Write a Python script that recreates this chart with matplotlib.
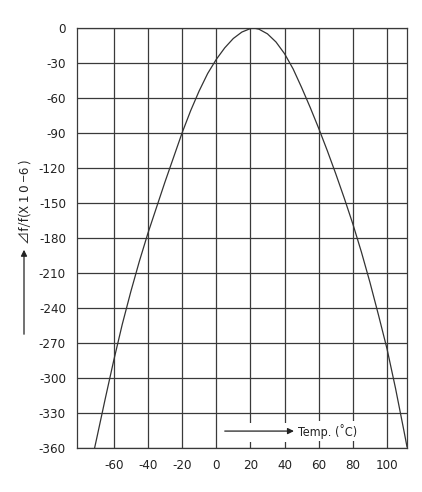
import matplotlib
matplotlib.use("Agg")
import matplotlib.pyplot as plt
from matplotlib.patches import Rectangle, FancyArrowPatch

# Data (temperature in degC, frequency deviation in ppm)
temp = [-71.2, -70, -65, -60, -55, -50, -45, -40, -35, -30, -25, -20, -15,
        -10, -5, 0, 5, 10, 15, 20, 22, 25, 30, 35, 40, 45, 50, 55, 60, 65, 70,
        75, 80, 85, 90, 95, 100, 105, 110, 111.7]
dff = [-360, -352, -318, -285, -254, -226, -200, -176, -154, -132, -111, -90, -71,
       -54, -39, -27, -17, -9, -3.5, -0.5, 0, -1, -5, -12, -22, -35, -51, -68, -86,
       -105, -125, -146, -168, -192, -218, -246, -275, -309, -346, -359]

xticks = [-60, -40, -20, 0, 20, 40, 60, 80, 100]
yticks = [0, -30, -60, -90, -120, -150, -180, -210, -240, -270, -300, -330, -360]
xlabels = ["-60", "-40", "-20", "0", "20", "40", "60", "80", "100"]
ylabels = ["0", "-30", "-60", "-90", "-120", "-150", "-180", "-210", "-240",
           "-270", "-300", "-330", "-360"]

plt.rcParams['font.family'] = ['DejaVu Sans', 'Noto Sans CJK JP']
plt.rcParams['font.stretch'] = 'condensed'

fig = plt.figure(figsize=(4.22, 4.92), dpi=100)
ax = fig.add_axes([77 / 422, 1 - 448 / 492, 330 / 422, 420 / 492])

ax.set_xlim(-81.5, 111.7)
ax.set_ylim(-360, 0)

gc = "#3a3a3a"
for t in xticks:
    ax.axvline(t, color=gc, lw=0.9, zorder=1)
for v in yticks:
    ax.axhline(v, color=gc, lw=0.9, zorder=1)

ax.plot(temp, dff, color="#333333", lw=0.9, zorder=3, solid_joinstyle="round")

ax.set_xticks(xticks)
ax.set_xticklabels(xlabels)
ax.set_yticks(yticks)
ax.set_yticklabels(ylabels)
ax.tick_params(length=0, labelsize=9.5, colors="#222222")
ax.tick_params(axis='x', pad=8)
ax.tick_params(axis='y', pad=8)
for s in ax.spines.values():
    s.set_color(gc)
    s.set_linewidth(0.9)

# temperature label with arrow on a white patch that hides the grid
ax.add_patch(Rectangle((5.0, -355.0), 42.5, 16.5, facecolor="white",
                       edgecolor="none", zorder=2))
ax.text(47.8, -345.5, "Temp. (˚C)", fontsize=9,
        va="center", ha="left", color="#222222",
        bbox=dict(facecolor="white", edgecolor="none", pad=1.5), zorder=4)
ax.annotate("", xy=(45.5, -345.5), xytext=(5.0, -345.5),
            arrowprops=dict(arrowstyle="-|>", color="#222222", lw=0.9,
                            mutation_scale=9, shrinkA=0, shrinkB=0), zorder=5)

# y label with arrow
fig.text(25 / 422, 1 - 202 / 492, "⊿f/f(X 1 0 −6 )", rotation=90, fontsize=9.5,
         ha="center", va="center", color="#222222",
         family=['Noto Sans CJK JP', 'DejaVu Sans'])
fig.add_artist(FancyArrowPatch(
    (24 / 422, 1 - 337 / 492), (24 / 422, 1 - 247 / 492),
    transform=fig.transFigure, arrowstyle="-|>", mutation_scale=9,
    color="#222222", lw=0.9))

fig.savefig("out.png", dpi=100)
